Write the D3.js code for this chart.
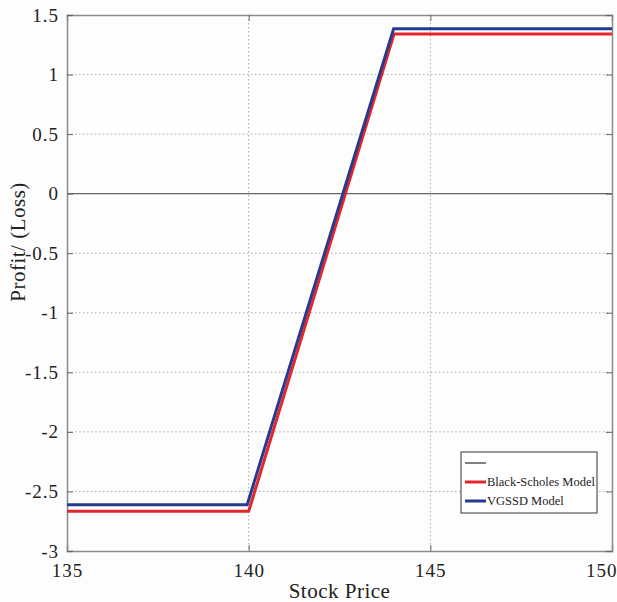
<!DOCTYPE html>
<html><head><meta charset="utf-8">
<script src="https://cdn.jsdelivr.net/npm/d3@7"></script>
<style>body{margin:0;background:#fdfdfd;}svg{display:block;}svg text{font-family:"Liberation Serif","Times New Roman",Times,serif !important;}</style>
</head><body>
<script>
const xTicks = [135, 140, 145, 150];
const yTicks = [-3, -2.5, -2, -1.5, -1, -0.5, 0, 0.5, 1, 1.5];
const bsX = [135, 140, 144, 150];
const bsY = [-2.667, -2.667, 1.34, 1.34];
const vgX = [135, 139.96, 143.99, 150];
const vgY = [-2.611, -2.611, 1.385, 1.385];
const seriesNames = ["Black-Scholes Model", "VGSSD Model"];
const seriesColors = ["#e3262b", "#283a8e"];

const W = 617, H = 602;
const m = {l: 67, r: 5, t: 15, b: 51};
const svg = d3.select("body").append("svg").attr("width", W).attr("height", H);
const x = d3.scaleLinear().domain([135, 150]).range([m.l, W - m.r]);
const y = d3.scaleLinear().domain([-3, 1.5]).range([H - m.b, m.t]);

// grid
svg.append("g").selectAll("line").data(xTicks.slice(1, -1)).join("line")
  .attr("x1", d => x(d)).attr("x2", d => x(d)).attr("y1", y(1.5)).attr("y2", y(-3))
  .attr("stroke", "#aaa").attr("stroke-dasharray", "1.5,2.5");
svg.append("g").selectAll("line").data(yTicks.filter(d => d !== 0 && d !== -3 && d !== 1.5)).join("line")
  .attr("x1", x(135)).attr("x2", x(150)).attr("y1", d => y(d)).attr("y2", d => y(d))
  .attr("stroke", "#aaa").attr("stroke-dasharray", "1.5,2.5");

// zero line
svg.append("line").attr("x1", x(135)).attr("x2", x(150)).attr("y1", y(0)).attr("y2", y(0))
  .attr("stroke", "#666").attr("stroke-width", 1.3);

// axes
const fmt = d => String(d);
const ax = svg.append("g").attr("transform", `translate(0,${y(-3)})`)
  .call(d3.axisBottom(x).tickValues(xTicks).tickSize(-6).tickPadding(10).tickFormat(fmt));
const axT = svg.append("g").attr("transform", `translate(0,${y(1.5)})`)
  .call(d3.axisTop(x).tickValues(xTicks).tickSize(-6).tickFormat(""));
const ay = svg.append("g").attr("transform", `translate(${x(135)},0)`)
  .call(d3.axisLeft(y).tickValues(yTicks).tickSize(-6).tickPadding(8).tickFormat(fmt));
const ayR = svg.append("g").attr("transform", `translate(${x(150)},0)`)
  .call(d3.axisRight(y).tickValues(yTicks).tickSize(-6).tickFormat(""));
[ax, axT, ay, ayR].forEach(g => {
  g.attr("font-family", null);
  g.selectAll("path").attr("stroke", "#8a8a8a").attr("stroke-width", 1.5);
  g.selectAll("line").attr("stroke", "#666");
  g.selectAll("text").attr("font-size", 19).attr("fill", "#222").attr("letter-spacing", 1);
});
ax.selectAll("text").attr("dy", "0.85em");
ax.selectAll("text").filter(d => d === 150).attr("text-anchor", "end").attr("x", 5);

// lines
const line = d3.line().x(d => x(d[0])).y(d => y(d[1]));
svg.append("path").datum(bsX.map((v, i) => [v, bsY[i]])).attr("d", line)
  .attr("fill", "none").attr("stroke", seriesColors[0]).attr("stroke-width", 3);
svg.append("path").datum(vgX.map((v, i) => [v, vgY[i]])).attr("d", line)
  .attr("fill", "none").attr("stroke", seriesColors[1]).attr("stroke-width", 3);

// labels
svg.append("text").attr("x", (x(135) + x(150)) / 2).attr("y", 598).attr("text-anchor", "middle")
  .attr("font-size", 21).attr("fill", "#222").attr("letter-spacing", 0.5).text("Stock Price");
svg.append("text").attr("transform", `translate(25,242) rotate(-90)`)
  .attr("text-anchor", "middle").attr("font-size", 21).attr("fill", "#222").attr("letter-spacing", 0.5)
  .text("Profit/ (Loss)");

// legend
const lg = svg.append("g").attr("transform", "translate(461,452)");
lg.append("rect").attr("width", 136).attr("height", 61).attr("fill", "#fff")
  .attr("stroke", "#555").attr("stroke-width", 1.2);
lg.append("line").attr("x1", 4).attr("x2", 25).attr("y1", 11).attr("y2", 11).attr("stroke", "#555").attr("stroke-width", 1.5);
seriesNames.forEach((n, i) => {
  const yy = 30 + i * 19;
  lg.append("line").attr("x1", 4).attr("x2", 25).attr("y1", yy).attr("y2", yy)
    .attr("stroke", seriesColors[i]).attr("stroke-width", 3);
  lg.append("text").attr("x", 26).attr("y", yy + 4).attr("font-size", 12.5).attr("fill", "#222").text(n);
});
</script>
</body></html>
